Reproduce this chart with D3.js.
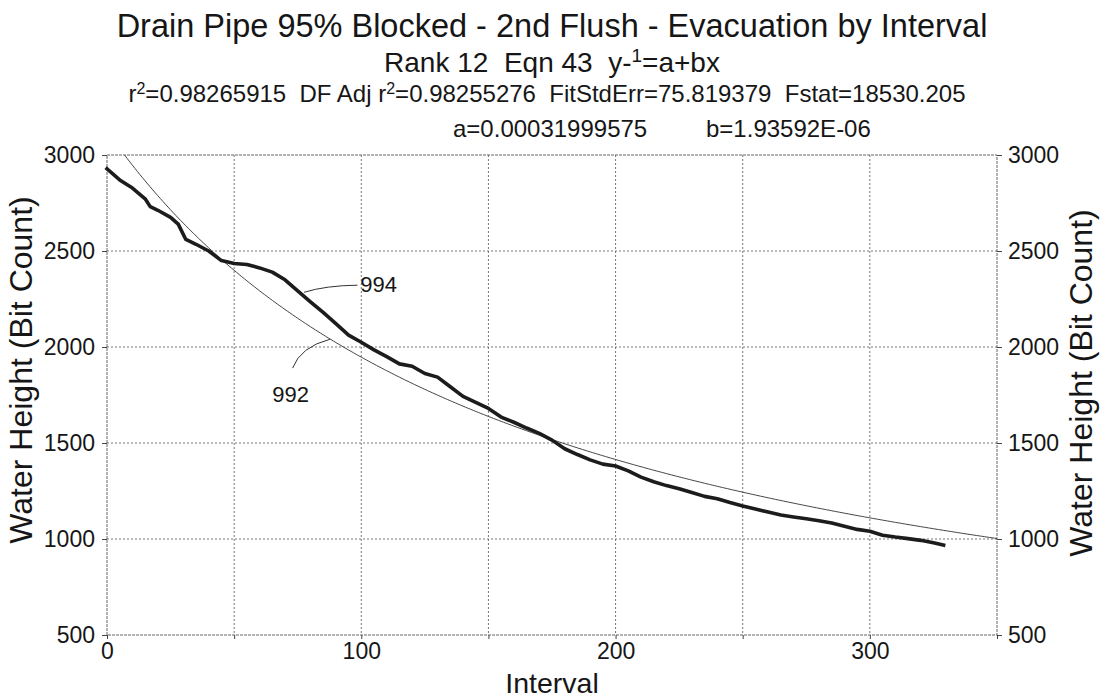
<!DOCTYPE html>
<html><head><meta charset="utf-8">
<script src="https://cdn.jsdelivr.net/npm/d3@7"></script>
<style>
body{margin:0;background:#fff}
text{font-family:"Liberation Sans",Arial,sans-serif;fill:#161616;white-space:pre}
</style>
</head><body>
<svg id="c" width="1102" height="700"></svg>
<script>
// ---- data ----
const intervals=[0,5,10,15,17,20,25,28,31,35,40,45,50,55,60,65,70,75,80,85,90,95,100,105,110,115,120,125,130,135,140,145,150,155,160,165,170,175,180,185,190,195,200,205,210,215,220,225,230,235,240,245,250,255,260,265,270,275,280,285,290,295,300,305,310,315,320,325,329];
const heights=[2928,2870,2828,2772,2731,2712,2675,2640,2560,2535,2500,2450,2435,2430,2412,2390,2350,2292,2235,2180,2122,2062,2025,1985,1950,1912,1900,1862,1843,1793,1743,1712,1680,1635,1608,1578,1550,1515,1470,1440,1412,1390,1380,1355,1322,1298,1278,1262,1242,1222,1210,1190,1172,1156,1140,1125,1115,1105,1095,1083,1066,1050,1040,1020,1010,1002,993,980,968];
const fitA=0.00031999575, fitB=1.93592E-06;
const xTickValues=[0,50,100,150,200,250,300,350];
const xLabelValues=[0,100,200,300];
const yTickValues=[500,1000,1500,2000,2500,3000];
const xDomain=[0,350], yDomain=[500,3000];
const titleText="Drain Pipe 95% Blocked - 2nd Flush - Evacuation by Interval";
const xTitle="Interval", yTitle="Water Height (Bit Count)";
const annoData={label:"994", x:99.6, y:2287, from:[77.5,2285], mid:[86,2320], to:[98.5,2322]};
const annoFit={label:"992", x:65, y:1715, from:[87.8,2041], mid:[76,2000], to:[73,1890]};

// ---- layout ----
const svg=d3.select("#c");
const L=107,R=997,T=155,B=635;
const x=d3.scaleLinear().domain(xDomain).range([L,R]);
const y=d3.scaleLinear().domain(yDomain).range([B,T]);
const fmt=d3.format("d");

svg.append("rect").attr("width",1102).attr("height",700).attr("fill","#fff");

// grid
const g=svg.append("g");
g.selectAll(".vg").data(xTickValues.filter(d=>d>0&&d<350)).join("line")
 .attr("x1",d=>x(d)).attr("x2",d=>x(d)).attr("y1",T).attr("y2",B)
 .attr("stroke","#777").attr("stroke-width",1).attr("stroke-dasharray","2,2");
g.selectAll(".hg").data(yTickValues.filter(d=>d>500&&d<3000)).join("line")
 .attr("y1",d=>y(d)).attr("y2",d=>y(d)).attr("x1",L).attr("x2",R)
 .attr("stroke","#777").attr("stroke-width",1).attr("stroke-dasharray","2,2");
// frame
svg.append("rect").attr("x",L).attr("y",T).attr("width",R-L).attr("height",B-T)
 .attr("fill","none").attr("stroke","#666").attr("stroke-width",1).attr("stroke-dasharray","3,1");

// axes
function styleAxis(sel,fs){
  sel.select(".domain").remove();
  sel.selectAll(".tick line").attr("stroke","#444");
  sel.selectAll(".tick text").attr("font-size",fs).attr("fill","#161616")
     .attr("font-family",'"Liberation Sans",Arial,sans-serif');
}
svg.append("g").attr("transform",`translate(${L},0)`)
 .call(d3.axisLeft(y).tickValues(yTickValues).tickSize(5).tickPadding(7).tickFormat(fmt))
 .call(s=>styleAxis(s,23));
svg.append("g").attr("transform",`translate(${R},0)`)
 .call(d3.axisRight(y).tickValues(yTickValues).tickSize(5).tickPadding(6).tickFormat(fmt))
 .call(s=>styleAxis(s,23));
svg.append("g").attr("transform",`translate(0,${B})`)
 .call(d3.axisBottom(x).tickValues(xTickValues).tickSize(4).tickPadding(4)
   .tickFormat(d=>xLabelValues.includes(d)?fmt(d):""))
 .call(s=>styleAxis(s,23));

// clip
svg.append("clipPath").attr("id","pc").append("rect")
 .attr("x",L).attr("y",T).attr("width",R-L).attr("height",B-T);

// fit curve y^-1 = a + b x
const fitXs=d3.range(0,351,1);
svg.append("path").attr("clip-path","url(#pc)")
 .attr("d",d3.line().x(d=>x(d)).y(d=>y(1/(fitA+fitB*d)))(fitXs))
 .attr("fill","none").attr("stroke","#444").attr("stroke-width",1);

// data
const pts=intervals.map((d,i)=>[d,heights[i]]);
svg.append("path")
 .attr("d",d3.line().x(d=>x(d[0])).y(d=>y(d[1]))(pts))
 .attr("fill","none").attr("stroke","#1c1c1c").attr("stroke-width",3.6)
 .attr("stroke-linejoin","round").attr("stroke-linecap","square");

// annotations
function anno(a){
  svg.append("path")
   .attr("d",`M${x(a.from[0])},${y(a.from[1])} Q${x(a.mid[0])},${y(a.mid[1])} ${x(a.to[0])},${y(a.to[1])}`)
   .attr("fill","none").attr("stroke","#333").attr("stroke-width",1);
  svg.append("text").attr("x",x(a.x)).attr("y",y(a.y)).attr("font-size",22).text(a.label);
}
anno(annoData);
anno(annoFit);

// titles
const cx=(L+R)/2;
svg.append("text").attr("x",cx).attr("y",37).attr("text-anchor","middle")
 .attr("font-size",32.5).text(titleText);
const st=svg.append("text").attr("x",cx).attr("y",72).attr("text-anchor","middle").attr("font-size",28);
st.append("tspan").text("Rank 12  Eqn 43  y-");
st.append("tspan").attr("dy",-10).attr("font-size",19).text("1");
st.append("tspan").attr("dy",10).text("=a+bx");
const l3=svg.append("text").attr("x",cx-5).attr("y",102).attr("text-anchor","middle").attr("font-size",24);
l3.append("tspan").text("r");
l3.append("tspan").attr("dy",-8).attr("font-size",16).text("2");
l3.append("tspan").attr("dy",8).text("=0.98265915  DF Adj r");
l3.append("tspan").attr("dy",-8).attr("font-size",16).text("2");
l3.append("tspan").attr("dy",8).text("=0.98255276  FitStdErr=75.819379  Fstat=18530.205");
svg.append("text").attr("x",453).attr("y",137).attr("font-size",24).text("a=0.00031999575");
svg.append("text").attr("x",706).attr("y",137).attr("font-size",24).text("b=1.93592E-06");

// axis titles
svg.append("text").attr("x",cx).attr("y",693).attr("text-anchor","middle").attr("font-size",28.5).text(xTitle);
svg.append("text").attr("transform","translate(32,370) rotate(-90)").attr("text-anchor","middle")
 .attr("font-size",32).text(yTitle);
svg.append("text").attr("transform","translate(1092,383) rotate(-90)").attr("text-anchor","middle")
 .attr("font-size",32).text(yTitle);
</script>
</body></html>
